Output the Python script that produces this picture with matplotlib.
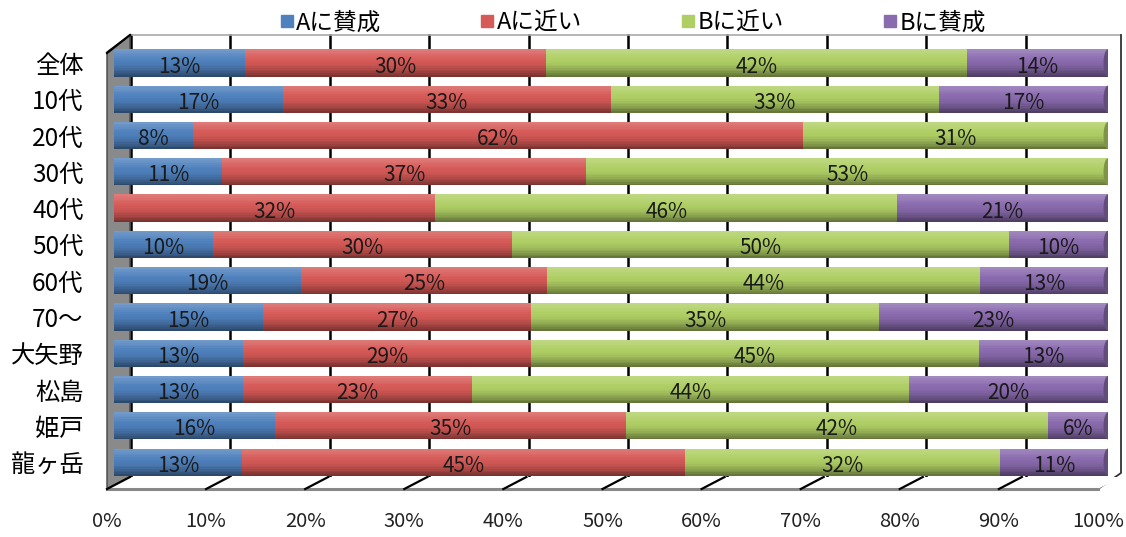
import numpy as np
import matplotlib
matplotlib.use("Agg")
import matplotlib.pyplot as plt
import matplotlib.transforms as mtransforms
from matplotlib.patches import Polygon, Ellipse
from matplotlib.lines import Line2D
import matplotlib.colors as mcolors

plt.rcParams['font.family'] = ['Noto Sans CJK JP', 'DejaVu Sans']

# data
groups = ['全体', '10代', '20代', '30代', '40代', '50代', '60代', '70～', '大矢野', '松島', '姫戸', '龍ヶ岳']
series = ['Aに賛成', 'Aに近い', 'Bに近い', 'Bに賛成']
a_yes = [13, 17, 8, 11, 0, 10, 19, 15, 13, 13, 16, 13]
a_near = [30, 33, 62, 37, 32, 30, 25, 27, 29, 23, 35, 45]
b_near = [42, 33, 31, 53, 46, 50, 44, 35, 45, 44, 42, 32]
b_yes = [14, 17, 0, 0, 21, 10, 13, 23, 13, 20, 6, 11]
ticks = [0, 10, 20, 30, 40, 50, 60, 70, 80, 90, 100]

colors = ['#4F81BD', '#D65A57', '#AFCF64', '#8A6BAE']

vals = np.array([a_yes, a_near, b_near, b_yes], dtype=float)
shares = vals / vals.sum(axis=0) * 100  # 100% stacked
y = np.arange(len(groups))

W, H = 1126, 537
fig = plt.figure(figsize=(W / 100, H / 100), dpi=100)
# front plane of the 3d box: x 114..1108 px, y 35..489 px
X0, X1, Y0, Y1 = 114, 1108, 35, 489
ax = fig.add_axes([X0 / W, 1 - Y1 / H, (X1 - X0) / W, (Y1 - Y0) / H])
ax.set_xlim(0, 100)
ax.set_ylim(11.74, -0.77)


def fr(px, py):
    # pixel -> axes fraction, only for the box decoration
    return [(px - X0) / (X1 - X0), (Y1 - py) / (Y1 - Y0)]


# back wall gridlines
shift = mtransforms.ScaledTranslation(17 / 100, 0, fig.dpi_scale_trans)
for t in ticks[:-1]:
    ax.add_line(Line2D([t, t], [fr(0, 477)[1], 1], color='black', lw=1.8, zorder=0,
                       transform=ax.get_xaxis_transform() + shift, clip_on=False))
ax.add_line(Line2D(*zip(fr(130, 35), fr(1121, 35)), transform=ax.transAxes, color='#aaaaaa',
                   lw=1.2, zorder=0, clip_on=False))
# right wall
ax.add_line(Line2D(*zip(fr(1121, 35), fr(1121, 473), fr(1098, 489)), transform=ax.transAxes,
                   color='#333333', lw=1.3, zorder=0, clip_on=False))
# left grey side wall
ax.add_patch(Polygon([fr(107, 52), fr(130, 35), fr(130, 477), fr(107, 489)], closed=True,
                     transform=ax.transAxes, facecolor='#8a8a8a', edgecolor='#444444', lw=1,
                     zorder=0, clip_on=False))
ax.add_line(Line2D(*zip(fr(107, 53), fr(130, 35)), transform=ax.transAxes, color='black',
                   lw=1.6, zorder=0, clip_on=False))
# floor
ax.add_patch(Polygon([fr(107, 489), fr(130, 477), fr(1121, 477), fr(1098, 489)], closed=True,
                     transform=ax.transAxes, facecolor='white', edgecolor='none',
                     zorder=0, clip_on=False))
ax.add_line(Line2D(*zip(fr(107, 489), fr(1098, 489)), transform=ax.transAxes, color='#888888',
                   lw=2.2, zorder=0, clip_on=False))
for t in ticks[:-1]:
    xa = 107 + t * 9.91
    ax.add_line(Line2D(*zip(fr(xa, 489), fr(xa + 23, 477)), transform=ax.transAxes,
                       color='black', lw=1.6, zorder=0, clip_on=False))

bh = 0.75
left = np.zeros(len(groups))
for i in range(4):
    ax.barh(y, shares[i], left=left, height=bh, color=colors[i], edgecolor='none', zorder=2)
    left += shares[i]

# rounded cylinder ends
first = [colors[np.nonzero(vals[:, j])[0][0]] for j in range(len(groups))]
last = [colors[np.nonzero(vals[:, j])[0][-1]] for j in range(len(groups))]
for j in range(len(groups)):
    ax.add_patch(Ellipse((0, y[j]), 0.9, bh, facecolor=first[j], edgecolor='none', zorder=1.9))
    dark = np.array(mcolors.to_rgb(last[j])) * 0.72
    ax.add_patch(Ellipse((left[j], y[j]), 0.9, bh, facecolor=dark, edgecolor='none', zorder=4))

# cylinder shading
n = 16
for k in range(n):
    f0 = k / n
    yy = y - bh / 2 + f0 * bh
    if f0 < 0.35:
        a = 0.2 * (0.35 - f0) / 0.35
        ax.barh(yy, left, height=bh / n, align='edge', color='white', alpha=a, lw=0, zorder=3)
    else:
        a = 0.5 * ((f0 - 0.35) / 0.65) ** 1.7
        ax.barh(yy, left, height=bh / n, align='edge', color='black', alpha=a, lw=0, zorder=3)

# value labels
left = np.zeros(len(groups))
for i in range(4):
    for j in range(len(groups)):
        if vals[i, j] > 0:
            ax.text(left[j] + shares[i, j] / 2, y[j] + 0.1, f'{int(vals[i, j])}%',
                    ha='center', va='center', fontsize=15, color='#1a1a1a', zorder=5)
    left += shares[i]

ax.set_yticks(y)
ax.set_yticklabels(groups, fontsize=17.5)
ax.tick_params(axis='y', length=0, pad=22)
ax.set_xticks([])
for s in ax.spines.values():
    s.set_visible(False)

# x labels sit along the front edge of the floor
axf = fig.add_axes([107 / W, 1 - 489 / H, (1098 - 107) / W, 0.0001])
axf.set_xlim(0, 100)
axf.set_yticks([])
axf.set_xticks(ticks)
axf.set_xticklabels([f'{t}%' for t in ticks], fontsize=14.5, color='#222222')
axf.tick_params(axis='x', length=0, pad=16)
axf.patch.set_visible(False)
for s in axf.spines.values():
    s.set_visible(False)

handles = [Line2D([], [], marker='s', ls='none', color=c, markersize=8) for c in colors]
fig.legend(handles, series, loc='center', bbox_to_anchor=(0.561, 0.957), ncol=4, frameon=False,
           fontsize=17, handletextpad=0.0, columnspacing=4.1, handlelength=0.8)

fig.savefig('out.png', dpi=100)
